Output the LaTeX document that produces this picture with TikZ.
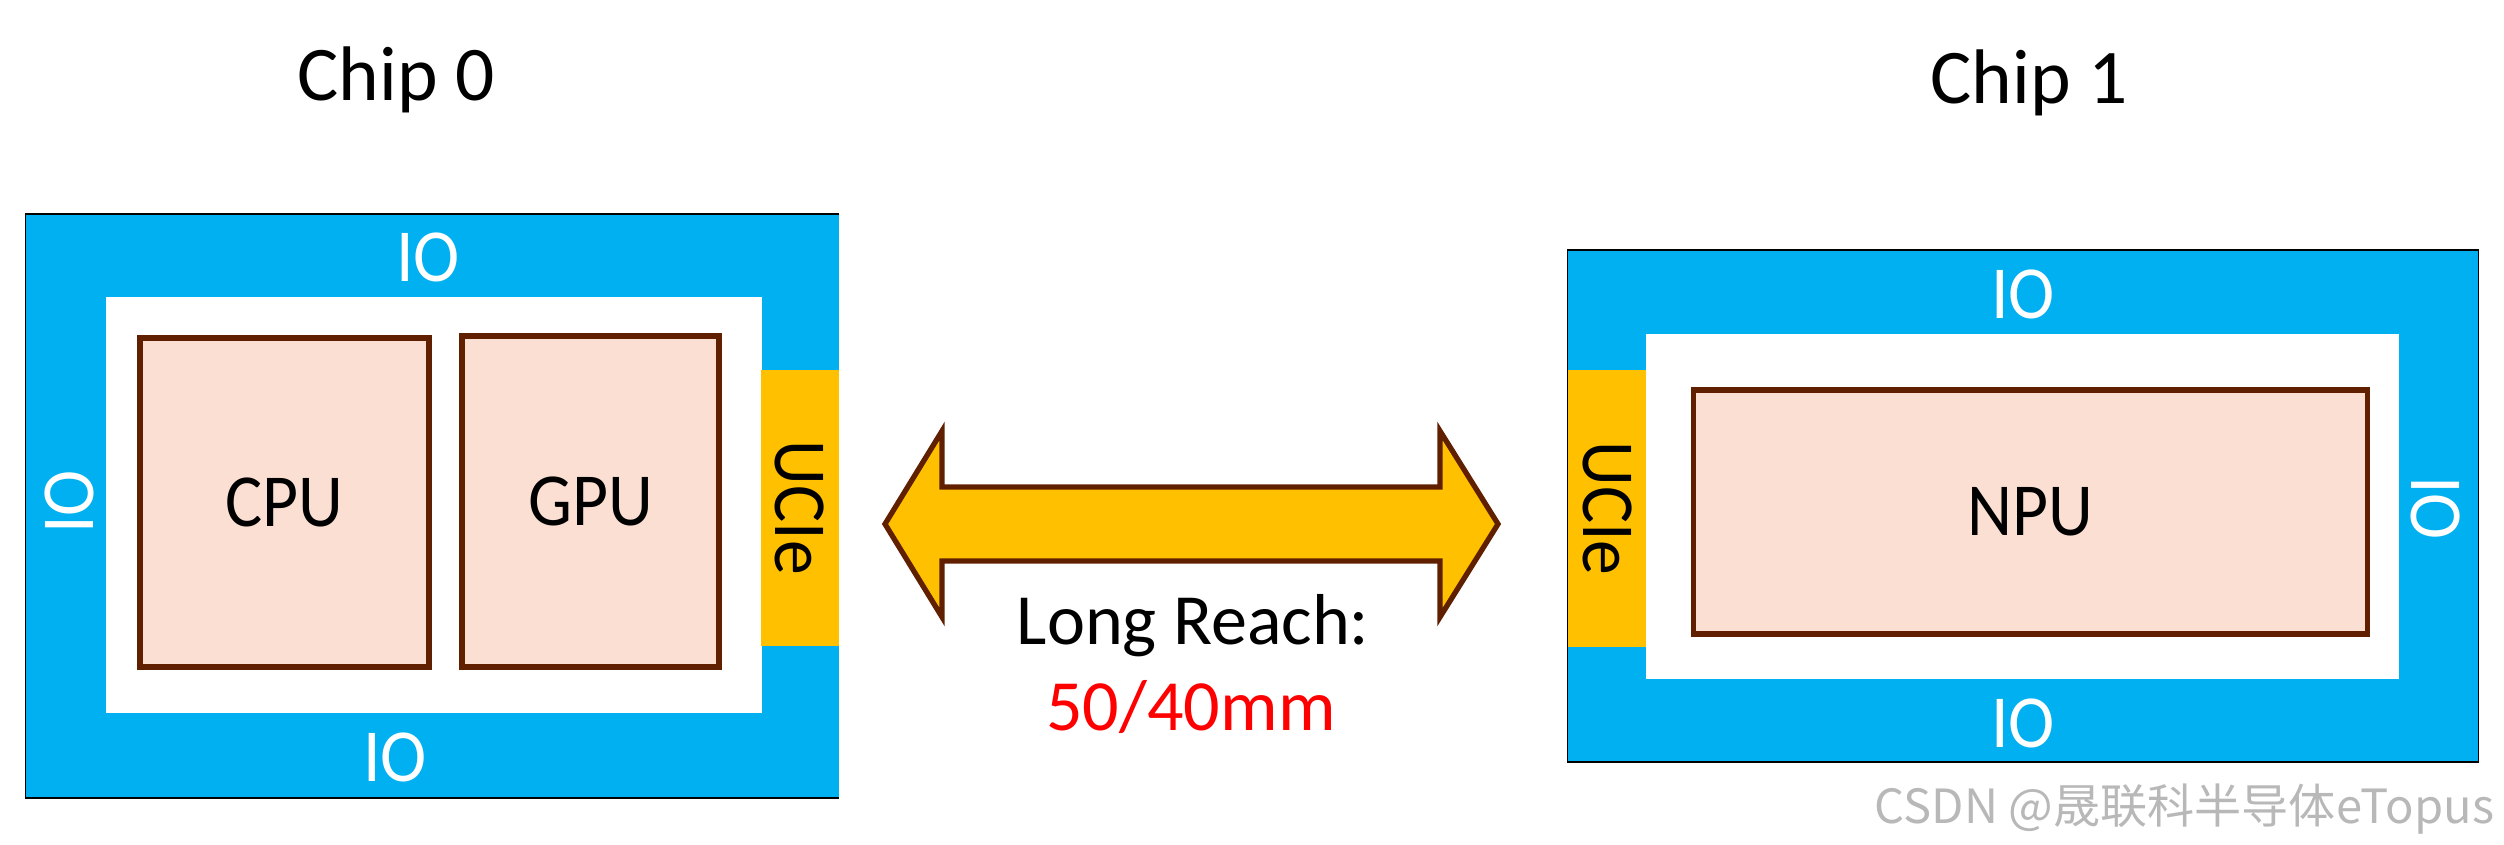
\documentclass[tikz,border=0pt]{standalone}
\usepackage{fontspec}
\setmainfont{Carlito}
\newfontfamily\chipfont{Carlito}[FakeStretch=0.93]
\newfontfamily\cjkfont{Noto Sans CJK SC}
\usepackage{tikz}
\usetikzlibrary{positioning, calc}
\usepackage{xcolor}
\definecolor{iblue}{HTML}{00B0F0}
\definecolor{uciegold}{HTML}{FFC000}
\definecolor{corepink}{HTML}{FADFD2}
\definecolor{corebrown}{HTML}{602000}

\begin{document}
\begin{tikzpicture}[x=0.01cm, y=-0.01cm, inner sep=0pt, outer sep=0pt,
  font=\chipfont\fontsize{21.3}{25}\selectfont,
  diebox/.style={fill=iblue, minimum width=#1},
  corebox/.style={draw=corebrown, line width=1.5pt, fill=corepink},
  uciebox/.style={fill=uciegold, minimum width=0.78cm},
  iolabel/.style={text=white},
  chiptitle/.style={font=\normalfont\fontsize{22}{26}\selectfont, anchor=base}]

\path[use as bounding box] (0,0) rectangle (2504,844);

% Chip 0
\node[diebox=8.13cm, minimum height=5.84cm] (chip0) at (432.5,506) {};
\draw[thin] (chip0.north east) -- (chip0.north west) -- (chip0.south west) -- (chip0.south east);
\node[fill=white, minimum width=6.56cm, minimum height=4.16cm] (inner0) at (434,505) {};
\node[corebox, minimum width=2.89cm, minimum height=3.29cm] (cpu) at (284.5,502.5) {CPU};
\node[corebox, minimum width=2.57cm, minimum height=3.31cm] (gpu) at (590.5,501.5) {GPU};
\node[uciebox, minimum height=2.76cm] (ucie0) at (800,508) {};
\node[rotate=-90] (ucie0txt) at (ucie0.center) {UCIe};
\node[iolabel] (io0top) at (428,257) {IO};
\node[iolabel] (io0bot) at (395,757) {IO};
\node[iolabel, rotate=90] (io0left) at (69,502) {IO};
\node[chiptitle] (title0) at (396,100) {Chip 0};

% Chip 1
\node[diebox=9.10cm, minimum height=5.12cm, draw=black, thin] (chip1) at (2023,506) {};
\node[fill=white, minimum width=7.53cm, minimum height=3.45cm] (inner1) at (2022.5,506.5) {};
\node[corebox, minimum width=6.73cm, minimum height=2.44cm] (npu) at (2030.5,512) {NPU};
\node[uciebox, minimum height=2.77cm] (ucie1) at (1607,508.5) {};
\node[rotate=-90] (ucie1txt) at (ucie1.center) {UCIe};
\node[iolabel] (io1top) at (2023,294) {IO};
\node[iolabel] (io1bot) at (2023,723) {IO};
\node[iolabel, rotate=-90] (io1right) at (2436,508) {IO};
\node[chiptitle] (title1) at (2029,103) {Chip 1};

% Long reach link between the two UCIe sides
\coordinate (ltip) at (885,524);
\coordinate (rtip) at (1498,524);
\draw[corebrown, line width=1.5pt, fill=uciegold, line join=miter]
  (ltip) -- ($(ltip)+(57,-93)$) -- ($(ltip)+(57,-37)$) -- ($(rtip)+(-58,-37)$)
  -- ($(rtip)+(-58,-93)$) -- (rtip) -- ($(rtip)+(-58,93)$) -- ($(rtip)+(-58,37)$)
  -- ($(ltip)+(57,37)$) -- ($(ltip)+(57,93)$) -- cycle;
\node[anchor=base, font=\normalfont\fontsize{20.5}{24}\selectfont] (reach) at (1193,644) {Long Reach:};
\node[anchor=base, font=\normalfont\fontsize{20.5}{24}\selectfont, text=red] (dist) at (1191,730) {50/40mm};

% watermark
\node[anchor=base east, text=black!28, font=\cjkfont\fontsize{13.4}{16}\selectfont] (mark) at (2494,823) {CSDN @晟联科半导体eTopus};

\end{tikzpicture}
\end{document}
